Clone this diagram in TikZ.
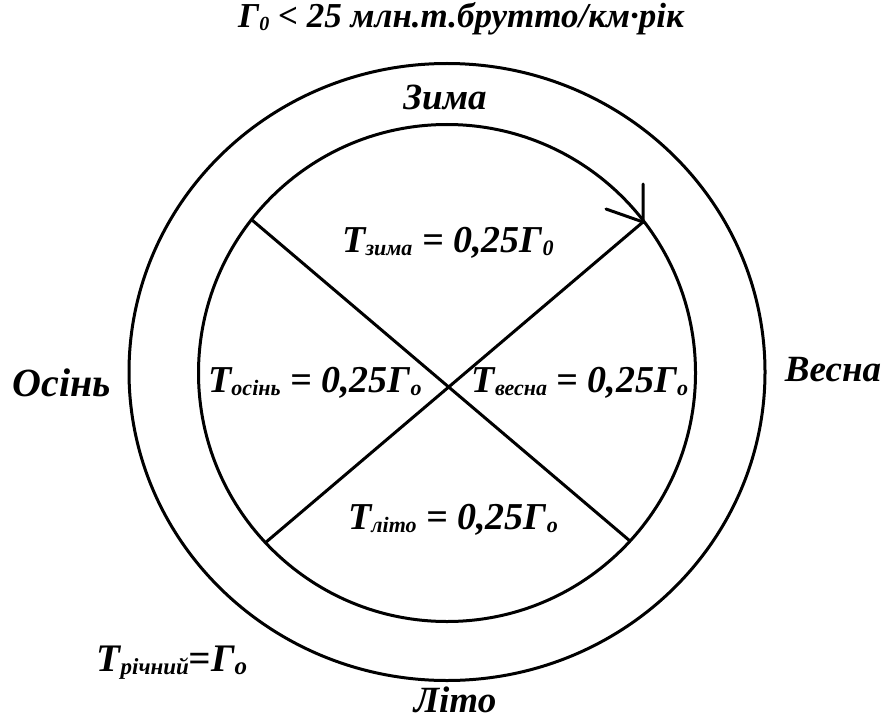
\documentclass[tikz,border=0pt]{standalone}
\usepackage{fontspec}
\usetikzlibrary{shapes.geometric}
\setmainfont{Liberation Serif}
\newcommand\titlefont{\fontsize{35}{38}\selectfont\bfseries\itshape}
\newcommand\bigfont{\fontsize{37}{40}\selectfont\bfseries\itshape}
\newcommand\osinfont{\fontsize{40}{44}\selectfont\bfseries\itshape}
\newcommand\midfont{\fontsize{38}{42}\selectfont\bfseries\itshape}
\newcommand\sbx[2]{\raisebox{-0.08em}{\fontsize{#1}{#1}\selectfont #2}}
\begin{document}
\begin{tikzpicture}[x=1pt,y=-1pt,
  ln/.style={line width=3pt,black},
  lbl/.style={inner sep=0pt,font=\bigfont},
  eq/.style={inner sep=0pt,font=\midfont}]
\useasboundingbox (0,0) rectangle (885,722);
\node[draw,ln,ellipse,minimum width=636,minimum height=617,inner sep=0pt] (outer) at (447,372) {};
\node[draw,ln,circle,minimum size=497,inner sep=0pt] (inner) at (447,373) {};
\coordinate (a1) at (252,220);
\coordinate (a2) at (630,541);
\coordinate (b1) at (265,543);
\coordinate (b2) at (643,222);
\coordinate (h1) at (643,184);
\coordinate (h2) at (606,209);
\draw[ln] (a1) -- (a2);
\draw[ln] (b1) -- (b2);
\draw[ln,line cap=round] (h1) -- (b2) -- (h2);
\node[inner sep=0pt,font=\titlefont] (title) at (461,19) {Г\sbx{20}{0} < 25 млн.т.брутто/км·рік};
\node[lbl] (zima) at (445,97) {Зима};
\node[lbl] (vesna) at (833,370) {Весна};
\node[inner sep=0pt,font=\osinfont] (osin) at (62,383) {Осінь};
\node[lbl] (lito) at (455,700) {Літо};
\node[eq] (tz) at (448,243) {Т\sbx{22}{зима} = 0,25Г\sbx{22}{0}};
\node[eq] (to) at (315,383) {Т\sbx{22}{осінь} = 0,25Г\sbx{22}{о}};
\node[eq] (tv) at (580,383) {Т\sbx{22}{весна} = 0,25Г\sbx{22}{о}};
\node[eq] (tl) at (453,520) {Т\sbx{22}{літо} = 0,25Г\sbx{22}{о}};
\node[inner sep=0pt,font=\fontsize{39}{42}\selectfont\bfseries\itshape] (tr) at (172,663) {Т\sbx{23}{річний}=Г\sbx{25}{о}};
\end{tikzpicture}
\end{document}
